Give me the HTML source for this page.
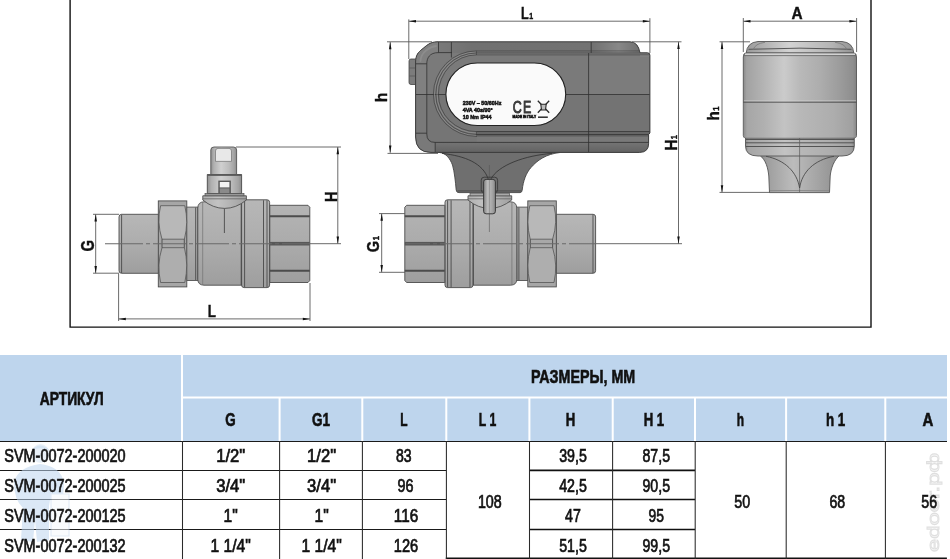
<!DOCTYPE html>
<html lang="ru"><head><meta charset="utf-8"><title>SVM-0072</title>
<style>
html,body{margin:0;padding:0;background:#fff;}
body{width:950px;height:559px;overflow:hidden;font-family:'Liberation Sans',sans-serif;}
svg{display:block;position:absolute;left:0;top:0;}
text{font-family:'Liberation Sans',sans-serif;}
.b{font-weight:bold;}
.dl{stroke:#5a5a5a;stroke-width:0.9;fill:none;}
.ol{stroke:#4a4a4a;stroke-width:0.9;fill:none;}
.al{stroke:#303030;stroke-width:0.8;fill:none;}
.ah{fill:#111;stroke:none;}
</style></head><body>
<svg width="950" height="559" viewBox="0 0 950 559">
<defs>
<linearGradient id="gv" x1="0" y1="0" x2="0" y2="1">
 <stop offset="0" stop-color="#b7b7b7"/><stop offset="0.5" stop-color="#adadad"/><stop offset="1" stop-color="#9e9e9e"/>
</linearGradient>
<linearGradient id="gv2" x1="0" y1="0" x2="0" y2="1">
 <stop offset="0" stop-color="#b4b4b4"/><stop offset="0.5" stop-color="#ababab"/><stop offset="1" stop-color="#9e9e9e"/>
</linearGradient>
<linearGradient id="gh" x1="0" y1="0" x2="1" y2="0">
 <stop offset="0" stop-color="#909090"/><stop offset="0.12" stop-color="#b0b0b0"/><stop offset="0.4" stop-color="#d0d0d0"/><stop offset="0.7" stop-color="#bcbcbc"/><stop offset="0.9" stop-color="#a4a4a4"/><stop offset="1" stop-color="#8c8c8c"/>
</linearGradient>
<linearGradient id="gcap" x1="0" y1="0" x2="1" y2="0">
 <stop offset="0" stop-color="#8a8a8a"/><stop offset="0.03" stop-color="#a2a2a2"/><stop offset="0.15" stop-color="#b0b0b0"/><stop offset="0.28" stop-color="#c1c1c1"/><stop offset="0.36" stop-color="#cbcbcb"/><stop offset="0.5" stop-color="#b9b9b9"/><stop offset="0.68" stop-color="#adadad"/><stop offset="0.85" stop-color="#9c9c9c"/><stop offset="0.97" stop-color="#8e8e8e"/><stop offset="1" stop-color="#808080"/>
</linearGradient>
<linearGradient id="gcap2" x1="0" y1="0" x2="1" y2="0">
 <stop offset="0" stop-color="#8e8e8e"/><stop offset="0.1" stop-color="#9e9e9e"/><stop offset="0.42" stop-color="#bcbcbc"/><stop offset="0.75" stop-color="#a2a2a2"/><stop offset="1" stop-color="#8e8e8e"/>
</linearGradient>
<linearGradient id="gcapt" x1="0" y1="0" x2="1" y2="0">
 <stop offset="0" stop-color="#9a9a9a"/><stop offset="0.4" stop-color="#d2d2d2"/><stop offset="0.8" stop-color="#b4b4b4"/><stop offset="1" stop-color="#929292"/>
</linearGradient>
<linearGradient id="gtop" x1="0" y1="0" x2="1" y2="0">
 <stop offset="0" stop-color="#7c7c7c"/><stop offset="0.2" stop-color="#707070"/><stop offset="0.78" stop-color="#727272"/><stop offset="0.9" stop-color="#888888"/><stop offset="1" stop-color="#707070"/>
</linearGradient>
<linearGradient id="gdome" x1="0" y1="0" x2="1" y2="0">
 <stop offset="0" stop-color="#b0b0b0"/><stop offset="0.35" stop-color="#c2c2c2"/><stop offset="1" stop-color="#a0a0a0"/>
</linearGradient>
<linearGradient id="gpin" x1="0" y1="0" x2="1" y2="0">
 <stop offset="0" stop-color="#808080"/><stop offset="0.35" stop-color="#bebebe"/><stop offset="0.7" stop-color="#a8a8a8"/><stop offset="1" stop-color="#888888"/>
</linearGradient>
<linearGradient id="gbot" x1="0" y1="0" x2="0" y2="1">
 <stop offset="0" stop-color="#747474"/><stop offset="1" stop-color="#626262"/>
</linearGradient>
<linearGradient id="gcapl" x1="0" y1="0" x2="1" y2="0">
 <stop offset="0" stop-color="#8e8e8e"/><stop offset="0.03" stop-color="#a6a6a6"/><stop offset="0.18" stop-color="#b0b0b0"/><stop offset="0.36" stop-color="#c3c3c3"/><stop offset="0.5" stop-color="#b8b8b8"/><stop offset="0.8" stop-color="#adadad"/><stop offset="0.97" stop-color="#a0a0a0"/><stop offset="1" stop-color="#8a8a8a"/>
</linearGradient>
</defs>
<g opacity="0.999">

<path d="M70.1,-2 V327.1 H871 V-2" fill="none" stroke="#111" stroke-width="1.4"/>
<g>
 <!-- male thread -->
 <path d="M121.5,214.3 H158.5 V273.3 H121.5 Q119,273.3 119,270.6 V217 Q119,214.3 121.5,214.3 Z" fill="url(#gv)" stroke="#4c4c4c" stroke-width="0.9"/>
 <path d="M121.6,214.6 V273" class="ol"/>
 <!-- neck -->
 <rect x="186.5" y="207.1" width="11.3" height="73.4" fill="url(#gv)" stroke="#555" stroke-width="0.9"/>
 <path d="M195.7,207.5 V280" class="ol"/>
 <!-- nut -->
 <rect x="158.3" y="200.9" width="28.5" height="86" fill="#a6a6a6" stroke="#4c4c4c" stroke-width="0.9"/>
 <rect x="161.6" y="239.2" width="22.6" height="8.5" fill="#a8a8a8"/>
 <path d="M160.6,205.7 H184.8 Q188.8,222 184.4,239.2 H162 Q156.6,222 160.6,205.7 Z" fill="#b8b8b8" stroke="#555" stroke-width="0.8"/>
 <path d="M162,247.7 H184.4 Q188.8,265 184.8,282.5 H160.6 Q156.6,265 162,247.7 Z" fill="#aeaeae" stroke="#555" stroke-width="0.8"/>
 <path d="M162,239.2 V247.7 M184.3,239.2 V247.7" class="ol"/>
 <!-- body -->
 <path d="M197.8,208 Q198,202 204,201.8 H243 V285.2 H204 Q198,285 197.8,279.5 Z" fill="url(#gv)" stroke="#4c4c4c" stroke-width="0.9"/>
 <path d="M202.7,202.3 V285" stroke="#777" stroke-width="0.8" fill="none"/>
 <rect x="241.6" y="199.8" width="28" height="87.8" rx="2.5" fill="url(#gv)" stroke="#4c4c4c" stroke-width="0.9"/>
 <path d="M241.2,203 V285 M244.6,200.3 V287.3 M263.5,200.3 V287.3 M267,200.3 V287.3" class="ol"/>
 <!-- female hex -->
 <path d="M269.8,205.3 H308 L309.8,207.3 V280.5 L308,282.5 H269.8 Z" fill="url(#gv2)" stroke="#4c4c4c" stroke-width="0.9"/>
 <path d="M269.8,216.2 H309.8 M269.8,270.8 H309.8" stroke="#4c4c4c" stroke-width="1.9" fill="none"/>
 <rect x="269.8" y="241.9" width="40" height="3.6" fill="#585858"/>
</g>
<g>
<path d="M207.3,193.6 H241.6 V174.5 H207.3 Z" fill="url(#gh)" stroke="#4a4a4a" stroke-width="0.9"/>
<path d="M210.8,174.5 V150 Q210.8,147 214,147 H233.5 Q236.6,147 236.6,150 V174.5 Z" fill="url(#gh)" stroke="#555" stroke-width="0.9"/>
<path d="M215.5,151 Q215.5,148.4 218,148.4 H229 Q231.5,148.4 231.5,151 V161.4 H215.5 Z" fill="#e8e8e8" stroke="#707070" stroke-width="0.7"/>
<rect x="207.3" y="174.4" width="34.3" height="1.5" fill="#5a5a5a"/>
<rect x="218.3" y="180.6" width="12.6" height="12.6" fill="#5a5a5a"/>
<rect x="219.8" y="182" width="9.6" height="5.4" fill="#f4f4f4"/>
<rect x="219.8" y="188.4" width="9.6" height="4.8" fill="#8a8a8a"/>
<path d="M202.8,195.8 H246.4 V200 Q236,208.4 224.6,208.4 Q213,208.4 202.8,200 Z" fill="url(#gdome)" stroke="#505050" stroke-width="0.9"/>
<path d="M202.8,198.8 H246.4" stroke="#666" stroke-width="0.8" fill="none"/>
<rect x="205" y="193.6" width="39" height="2.2" fill="#999" stroke="#505050" stroke-width="0.7"/>
<path d="M224.4,208.6 V233" class="ol"/>
</g>
<path d="M105,243.7 H310" stroke="#6a6a6a" stroke-width="1.1" stroke-dasharray="38 3 4 3 33 3 4 3 33 3 4 3 33 3 4 3 33 3 4 3 33 3 4 3 33 3 4 3" fill="none"/>
<g transform="translate(714.6,0) scale(-1,1)">
 <!-- male thread -->
 <path d="M121.5,214.3 H158.5 V273.3 H121.5 Q119,273.3 119,270.6 V217 Q119,214.3 121.5,214.3 Z" fill="url(#gv)" stroke="#4c4c4c" stroke-width="0.9"/>
 <path d="M121.6,214.6 V273" class="ol"/>
 <!-- neck -->
 <rect x="186.5" y="207.1" width="11.3" height="73.4" fill="url(#gv)" stroke="#555" stroke-width="0.9"/>
 <path d="M195.7,207.5 V280" class="ol"/>
 <!-- nut -->
 <rect x="158.3" y="200.9" width="28.5" height="86" fill="#a6a6a6" stroke="#4c4c4c" stroke-width="0.9"/>
 <rect x="161.6" y="239.2" width="22.6" height="8.5" fill="#a8a8a8"/>
 <path d="M160.6,205.7 H184.8 Q188.8,222 184.4,239.2 H162 Q156.6,222 160.6,205.7 Z" fill="#b8b8b8" stroke="#555" stroke-width="0.8"/>
 <path d="M162,247.7 H184.4 Q188.8,265 184.8,282.5 H160.6 Q156.6,265 162,247.7 Z" fill="#aeaeae" stroke="#555" stroke-width="0.8"/>
 <path d="M162,239.2 V247.7 M184.3,239.2 V247.7" class="ol"/>
 <!-- body -->
 <path d="M197.8,208 Q198,202 204,201.8 H243 V285.2 H204 Q198,285 197.8,279.5 Z" fill="url(#gv)" stroke="#4c4c4c" stroke-width="0.9"/>
 <path d="M202.7,202.3 V285" stroke="#777" stroke-width="0.8" fill="none"/>
 <rect x="241.6" y="199.8" width="28" height="87.8" rx="2.5" fill="url(#gv)" stroke="#4c4c4c" stroke-width="0.9"/>
 <path d="M241.2,203 V285 M244.6,200.3 V287.3 M263.5,200.3 V287.3 M267,200.3 V287.3" class="ol"/>
 <!-- female hex -->
 <path d="M269.8,205.3 H308 L309.8,207.3 V280.5 L308,282.5 H269.8 Z" fill="url(#gv2)" stroke="#4c4c4c" stroke-width="0.9"/>
 <path d="M269.8,216.2 H309.8 M269.8,270.8 H309.8" stroke="#4c4c4c" stroke-width="1.9" fill="none"/>
 <rect x="269.8" y="241.9" width="40" height="3.6" fill="#585858"/>
</g>
<path d="M406,243.7 H596" stroke="#6a6a6a" stroke-width="1.1" stroke-dasharray="24 3 4 3 33 3 4 3 33 3 4 3 33 3 4 3 33 3 4 3 33 3 4 3 33 3 4 3" fill="none"/>
<path class="dl" d="M596,243.7 H682"/>
<clipPath id="cb"><path d="M437,41.8 H630 Q638,41.8 640,52.8 H647.5 Q649.9,52.8 649.9,55.2 V133 L648.6,134.5 V143.5 Q648.6,152.4 639.5,152.4 H431 Q415.6,152.4 415.6,137 V62 C415.6,55 418.5,52 422,49.3 C426,46 430,41.8 437,41.8 Z"/></clipPath>
<g>
<path d="M439.5,152.5 C446,153 450,158.5 452.5,165 C454.5,172 455.5,182 456.2,190 Q456.4,192.6 459,192.6 H520 Q522,192.6 522.2,190 C523.2,181 526,173 531,167.5 C537,160.5 546,154 560,152.5 Z" fill="#6f6f6f" stroke="#444" stroke-width="0.9"/>
<path d="M457.5,190.9 H521.5" stroke="#5a5a5a" stroke-width="1.6" fill="none"/>
<path d="M442,153.4 C465,156 483,163 488.4,179.5 M552,153.4 C525,155.5 498,165 490.6,179.5" class="al"/>
<path d="M409,61 Q409,59 411,59 H416 V84.5 H411 Q409,84.5 409,82.5 Z" fill="#7c7c7c" stroke="#444" stroke-width="0.8"/>
<path d="M409.3,68 H415.5 M409.3,76 H415.5" stroke="#555" stroke-width="0.7" fill="none"/>
<path d="M437,41.8 H630 Q638,41.8 640,52.8 H647.5 Q649.9,52.8 649.9,55.2 V133 L648.6,134.5 V143.5 Q648.6,152.4 639.5,152.4 H431 Q415.6,152.4 415.6,137 V62 C415.6,55 418.5,52 422,49.3 C426,46 430,41.8 437,41.8 Z" fill="#757575"/>
<g clip-path="url(#cb)">
<rect x="415" y="53" width="236" height="41.5" fill="#7a7a7a"/>
<path d="M432,42.3 H630 Q637.6,42.3 639.6,52.8 H430 Z" fill="url(#gtop)"/>
<path d="M415,94 V41 H438 V53.5 Q427.2,54.5 427.2,64 V94 Z" fill="#808080"/>
<path d="M420.5,61 C421,55 423,53 426,50.5 C429,48 432,46.3 436,46" stroke="#8c8c8c" stroke-width="1.8" fill="none" stroke-linecap="round"/>
<path d="M415,95 V153 H435 V142.4 Q427.2,141.5 427.2,134 V95 Z" fill="#797979"/>
<rect x="589" y="55.2" width="61" height="38.8" fill="#7c7c7c"/>
<rect x="589" y="95" width="61" height="36.3" fill="#737373"/>
<rect x="476.5" y="131.6" width="174" height="2.8" fill="#6c6c6c"/>
<rect x="476.5" y="134.4" width="174" height="2.4" fill="#5e5e5e"/>
<rect x="476.5" y="136.6" width="174" height="5.6" fill="#797979"/>
<rect x="435.4" y="142.6" width="215" height="10" fill="url(#gbot)"/>
<path d="M640,55.6 H649.5" stroke="#8a8a8a" stroke-width="1.2" fill="none"/>
<path d="M415.6,94.5 H446 M564.5,94.5 H649.9 M476.5,131.6 H649.9 M476.5,134.4 H649.9 M435,142.4 H649.9 M588.6,53 V152.5 M591.2,42 V53 M435.2,142.4 V152.4 M476.4,131.5 V136.5 M476.4,50.9 V55 M415.6,133.2 H426.8" class="al"/>
<path d="M476.5,50.9 H639 M476.5,53 H640 M476.5,54.9 H649.5" stroke="#3a3a3a" stroke-width="0.7" fill="none" opacity="0.75"/>
<path d="M426.8,64 V134 Q426.8,142.4 435,142.4 M415.6,63.8 H426.8 M426.8,64 C426.8,58 429.5,52.6 438.5,52.6 H452 M438.5,42 V52.6 M451.4,42 V57.5" class="al"/>
</g>
<path d="M437,41.8 H630 Q638,41.8 640,52.8 H647.5 Q649.9,52.8 649.9,55.2 V133 L648.6,134.5 V143.5 Q648.6,152.4 639.5,152.4 H431 Q415.6,152.4 415.6,137 V62 C415.6,55 418.5,52 422,49.3 C426,46 430,41.8 437,41.8 Z" fill="none" stroke="#3c3c3c" stroke-width="1"/>
<path d="M476.5,51.9 A41.9,42.4 0 0 0 434.6,94.25 A41.9,41.2 0 0 0 476.5,135.4 M476.5,53.9 A39.4,40.4 0 0 0 437.1,94.25 A39.4,38.8 0 0 0 476.5,133" stroke="#8a8a8a" stroke-width="1" fill="none"/>
<path d="M476.5,50.9 A43.1,43.4 0 0 0 433.4,94.25 A43.1,42.2 0 0 0 476.5,136.4 M476.5,53 A40.7,41.2 0 0 0 435.8,94.25 A40.7,40.2 0 0 0 476.5,134.4 M476.5,54.9 A38.1,39.4 0 0 0 438.4,94.25 A38.1,37.3 0 0 0 476.5,131.6" stroke="#3a3a3a" stroke-width="0.8" fill="none" opacity="0.8"/>
<rect x="445.9" y="63" width="119.8" height="62.5" rx="31.25" fill="#fafafa" stroke="#222" stroke-width="1.1"/>
</g>
<text x="462.7" y="105.3" font-size="6.1" class="b" fill="#1a1a1a" stroke="#1a1a1a" stroke-width="0.6" lengthAdjust="spacingAndGlyphs" textLength="38.7">230V ~ 50/60Hz</text>
<text x="462.7" y="111.9" font-size="6.1" class="b" fill="#1a1a1a" stroke="#1a1a1a" stroke-width="0.6" lengthAdjust="spacingAndGlyphs" textLength="30">4VA 40s/90°</text>
<text x="462.7" y="118.5" font-size="6.1" class="b" fill="#1a1a1a" stroke="#1a1a1a" stroke-width="0.6" lengthAdjust="spacingAndGlyphs" textLength="28.8">10 Nm IP44</text>
<text x="512.8" y="112.6" font-size="17.2" fill="#3a3a3a" stroke="#3a3a3a" stroke-width="1" stroke-linejoin="round" letter-spacing="1.6" lengthAdjust="spacingAndGlyphs" textLength="19.6">CE</text>
<text x="512.5" y="118" font-size="3.4" class="b" fill="#111" stroke="#111" stroke-width="0.45" textLength="23.7" lengthAdjust="spacingAndGlyphs">MADE IN ITALY</text>
<g stroke="#2a2a2a" stroke-width="1.3" fill="none"><path d="M537.8,100.8 L549.2,112.8 M549.2,100.8 L537.8,112.8"/><path d="M540.8,104.2 H546.2 L545.5,110 H541.5 Z" stroke-width="1.1" fill="#bbb"/><path d="M538,117.2 H547.8" stroke-width="1.5"/></g>
<path d="M468,195.8 H511.7 V200 Q501,208.4 489.8,208.4 Q478,208.4 468,200 Z" fill="url(#gdome)" stroke="#505050" stroke-width="0.9"/>
<path d="M468,198.8 H511.7" stroke="#666" stroke-width="0.8" fill="none"/>
<rect x="470" y="193.2" width="39.5" height="2.6" fill="#aaa" stroke="#505050" stroke-width="0.7"/>
<path d="M489.4,165 V232" stroke="#555" stroke-width="0.6" fill="none"/>
<rect x="481.2" y="177.2" width="16.4" height="15.5" rx="3" fill="none" stroke="#3a3a3a" stroke-width="0.9"/>
<rect x="483.6" y="179.4" width="11.8" height="34.4" rx="2.5" fill="url(#gpin)" stroke="#3a3a3a" stroke-width="1"/>
<path d="M489.4,180 V213" stroke="#777" stroke-width="0.5" fill="none"/>
<g>
<path d="M759.5,155 C766,160 768,168 768.8,176 L769.5,192.6 H829.5 L830.2,176 C831,168 834,160 840,155 Z" fill="url(#gcap2)" stroke="#555" stroke-width="0.9"/>
<path d="M770,190.6 H829" stroke="#8a8a8a" stroke-width="1" fill="none"/>
<path d="M745.5,137.7 H854.3 V146 Q854.3,156 842,156 H758 Q745.5,156 745.5,146 Z" fill="url(#gcapl)" stroke="#555" stroke-width="0.9"/>
<path d="M746.2,53 Q747,42.4 758,41.5 H842 Q853,42.4 853.8,53 Z" fill="url(#gcapt)" stroke="#555" stroke-width="0.9"/>
<path d="M748.5,49.3 Q800,47 851.5,49.3" class="ol" stroke="#666"/>
<path d="M753,50 Q755,43.5 765,42.3 M847,50 Q845,43.5 835,42.3" stroke="#777" stroke-width="0.8" fill="none"/>
<path d="M743.3,57 Q743.3,53 746,53 H853.8 Q856.5,53 856.5,57 V135.5 Q856.5,138 854,138 H745.8 Q743.3,138 743.3,135.5 Z" fill="url(#gcap)" stroke="#555" stroke-width="0.9"/>
<path d="M745,54.2 H855" stroke="#d2d2d2" stroke-width="1.4" fill="none"/>
<path d="M744,55.6 H856" stroke="#666" stroke-width="0.8" fill="none"/>
<path d="M744,100.8 H856" stroke="#cfcfcf" stroke-width="1" fill="none" opacity="0.7"/>
<rect x="743.8" y="102.6" width="112.2" height="35" fill="url(#gcapl)"/>
<path d="M743.3,102.2 H856.5 M746,139.5 H854 M746,142.8 H854 M746,146.5 H854" class="ol"/>
<path d="M799.6,138 V192.4" stroke="#5a5a5a" stroke-width="0.7" fill="none"/>
<path d="M766,156.3 C785,160 797,172 799.6,188 C802,172 814,160 834,156.3" class="ol"/>
</g>
<path class="dl" d="M95.7,214.3 V273.2"/>
<path class="ah" d="M95.7,214.3 L94.45,221.5 L96.95,221.5 Z"/>
<path class="ah" d="M95.7,273.2 L94.45,266.0 L96.95,266.0 Z"/>
<path class="dl" d="M93,214.3 H119 M93,273.2 H119"/>
<text transform="translate(93.8,251.4) rotate(-90) scale(0.84,1)" font-size="17.6" class="b" fill="#111" stroke="#111" stroke-width="0.4">G</text>
<path class="dl" d="M118.6,318.9 H310"/>
<path class="ah" d="M118.6,318.9 L125.8,317.65 L125.8,320.15 Z"/>
<path class="ah" d="M310,318.9 L302.8,317.65 L302.8,320.15 Z"/>
<path class="dl" d="M118.6,273.5 V321 M310,283 V321"/>
<text transform="translate(207.8,316.8) scale(0.8,1)" font-size="16.8" class="b" fill="#111" stroke="#111" stroke-width="0.4">L</text>
<path class="dl" d="M337.8,147 V243.7"/>
<path class="ah" d="M337.8,147 L336.55,154.2 L339.05,154.2 Z"/>
<path class="ah" d="M337.8,243.7 L336.55,236.5 L339.05,236.5 Z"/>
<path class="dl" d="M236,147 H341 M310,243.7 H341"/>
<text transform="translate(337.1,202) rotate(-90) scale(0.86,1)" font-size="17" class="b" fill="#111" stroke="#111" stroke-width="0.4">H</text>
<path class="dl" d="M390.2,42 V152.8"/>
<path class="ah" d="M390.2,42 L388.95,49.2 L391.45,49.2 Z"/>
<path class="ah" d="M390.2,152.8 L388.95,145.60000000000002 L391.45,145.60000000000002 Z"/>
<path class="dl" d="M387,41.8 H432 M387.5,153.4 H438"/>
<text transform="translate(387.1,102.2) rotate(-90) scale(0.9,1)" font-size="17.4" class="b" fill="#111" stroke="#111" stroke-width="0.4">h</text>
<path class="dl" d="M408.8,21.2 H650"/>
<path class="ah" d="M408.8,21.2 L416.0,19.95 L416.0,22.45 Z"/>
<path class="ah" d="M650,21.2 L642.8,19.95 L642.8,22.45 Z"/>
<path class="dl" d="M408.8,19.4 V59 M649.9,18.2 V53"/>
<text transform="translate(521,18.6) scale(0.8,1)" font-size="15.8" class="b" fill="#111" stroke="#111" stroke-width="0.4">L<tspan font-size="8.8" dx="0.6">1</tspan></text>
<path class="dl" d="M678.5,41.8 V243.7"/>
<path class="ah" d="M678.5,41.8 L677.25,49.0 L679.75,49.0 Z"/>
<path class="ah" d="M678.5,243.7 L677.25,236.5 L679.75,236.5 Z"/>
<path class="dl" d="M632,41.8 H681.5"/>
<text transform="translate(676.8,150.6) rotate(-90) scale(0.88,1)" font-size="17" class="b" fill="#111" stroke="#111" stroke-width="0.4">H<tspan font-size="8.8" dx="0.6">1</tspan></text>
<path class="dl" d="M381.7,213.6 V272.3"/>
<path class="ah" d="M381.7,213.6 L380.45,220.79999999999998 L382.95,220.79999999999998 Z"/>
<path class="ah" d="M381.7,272.3 L380.45,265.1 L382.95,265.1 Z"/>
<path class="dl" d="M379,213.6 H405 M379,272.3 H405"/>
<text transform="translate(379.3,252.2) rotate(-90) scale(0.86,1)" font-size="17" class="b" fill="#111" stroke="#111" stroke-width="0.4">G<tspan font-size="8.8" dx="0.6">1</tspan></text>
<path class="dl" d="M743.3,21.2 H856.6"/>
<path class="ah" d="M743.3,21.2 L750.5,19.95 L750.5,22.45 Z"/>
<path class="ah" d="M856.6,21.2 L849.4,19.95 L849.4,22.45 Z"/>
<path class="dl" d="M743.3,18 V52 M856.6,18 V52"/>
<text transform="translate(791.6,18.9) scale(0.96,1)" font-size="16" class="b" fill="#111" stroke="#111" stroke-width="0.4">A</text>
<path class="dl" d="M722,41.8 V192.4"/>
<path class="ah" d="M722,41.8 L720.75,49.0 L723.25,49.0 Z"/>
<path class="ah" d="M722,192.4 L720.75,185.20000000000002 L723.25,185.20000000000002 Z"/>
<path class="dl" d="M719.5,41.8 H750 M719.5,192.4 H770"/>
<text transform="translate(719.1,120.6) rotate(-90) scale(0.88,1)" font-size="17.4" class="b" fill="#111" stroke="#111" stroke-width="0.4">h<tspan font-size="8.8" dx="0.6">1</tspan></text>
<rect x="0" y="355" width="947" height="86.5" fill="#bed5ed"/>
<path d="M182,355 V441 M182,397.4 H947 M279.6,397.4 V441 M362.3,397.4 V441 M446.3,397.4 V441 M529.4,397.4 V441 M612.7,397.4 V441 M695,397.4 V441 M786.1,397.4 V441 M885.3,397.4 V441" stroke="#fff" stroke-width="2" fill="none"/>
<path d="M0,441.5 H947 M0,470.5 H446.3 M0,499.5 H446.3 M0,529.5 H446.3" stroke="#1a1a1a" stroke-width="1.1" fill="none"/>
<path d="M529.4,470.4 H695 M529.4,499.5 H695 M529.4,529.5 H695" stroke="#111" stroke-width="1.7" fill="none"/>
<path d="M445.8,558.5 H946.9" stroke="#111" stroke-width="1.9" fill="none"/>
<path d="M182.5,441 V559 M279.6,441 V559 M362.4,441 V559 M446.4,441 V559 M529.5,441 V559 M612.6,441 V559 M695.2,441 V559 M786.2,441 V559 M885.4,441 V559" stroke="#2a2a2a" stroke-width="1.05" fill="none"/>
<g opacity="0.55"><ellipse cx="40.5" cy="453.5" rx="9" ry="9.5" fill="#d6e4f3"/><path d="M31.5,450 Q40,441 49.5,450 Q40,446.5 31.5,450 Z" fill="#b4cfea"/><path d="M14,482 Q18,467 40,464 Q60,466 64,482 L63,499 Q56,503 50,500 L49,506 L49,540 L37,542 L35,520 L33,542 L21,540 L23,508 Q14,500 14,482 Z" fill="#bdd5ee"/><path d="M51,494 H69 V536 H51 Z" fill="#f4f8fc" stroke="#c9dbee" stroke-width="1.2"/></g>
<text transform="translate(938.8,552) rotate(-90)" font-size="16.5" fill="#f6f6f6" stroke="#d2d2d2" stroke-width="0.9" textLength="99" lengthAdjust="spacingAndGlyphs" opacity="0.7">edoor.рф</text>
<text x="39.7" y="405.2" font-size="17.5" class="b" fill="#111" stroke="#111" stroke-width="0.6" textLength="63.9" lengthAdjust="spacingAndGlyphs">АРТИКУЛ</text>
<text x="531" y="383.0" font-size="17.5" class="b" fill="#111" stroke="#111" stroke-width="0.6" textLength="104.2" lengthAdjust="spacingAndGlyphs">РАЗМЕРЫ, ММ</text>
<text x="225.3" y="426.0" font-size="17.5" class="b" fill="#111" stroke="#111" stroke-width="0.6" textLength="10.4" lengthAdjust="spacingAndGlyphs">G</text>
<text x="312.1" y="426.0" font-size="17.5" class="b" fill="#111" stroke="#111" stroke-width="0.6" textLength="18.0" lengthAdjust="spacingAndGlyphs">G1</text>
<text x="400.2" y="426.0" font-size="17.5" class="b" fill="#111" stroke="#111" stroke-width="0.6" textLength="7.3" lengthAdjust="spacingAndGlyphs">L</text>
<text x="478.8" y="426.0" font-size="17.5" class="b" fill="#111" stroke="#111" stroke-width="0.6" textLength="17.4" lengthAdjust="spacingAndGlyphs">L 1</text>
<text x="565.7" y="426.0" font-size="17.5" class="b" fill="#111" stroke="#111" stroke-width="0.6" textLength="9.5" lengthAdjust="spacingAndGlyphs">H</text>
<text x="643.7" y="426.0" font-size="17.5" class="b" fill="#111" stroke="#111" stroke-width="0.6" textLength="20.5" lengthAdjust="spacingAndGlyphs">H 1</text>
<text x="736.8" y="426.0" font-size="17.5" class="b" fill="#111" stroke="#111" stroke-width="0.6" textLength="7.3" lengthAdjust="spacingAndGlyphs">h</text>
<text x="825.9" y="426.0" font-size="17.5" class="b" fill="#111" stroke="#111" stroke-width="0.6" textLength="19.3" lengthAdjust="spacingAndGlyphs">h 1</text>
<text x="922.5" y="426.0" font-size="17.5" class="b" fill="#111" stroke="#111" stroke-width="0.6" textLength="10.8" lengthAdjust="spacingAndGlyphs">A</text>
<text x="4.3" y="462.3" font-size="17.5" fill="#111" stroke="#111" stroke-width="0.7" textLength="121.3" lengthAdjust="spacingAndGlyphs">SVM-0072-200020</text>
<text x="4.3" y="491.8" font-size="17.5" fill="#111" stroke="#111" stroke-width="0.7" textLength="121.3" lengthAdjust="spacingAndGlyphs">SVM-0072-200025</text>
<text x="4.3" y="522.1" font-size="17.5" fill="#111" stroke="#111" stroke-width="0.7" textLength="121.3" lengthAdjust="spacingAndGlyphs">SVM-0072-200125</text>
<text x="4.3" y="551.6" font-size="17.5" fill="#111" stroke="#111" stroke-width="0.7" textLength="121.3" lengthAdjust="spacingAndGlyphs">SVM-0072-200132</text>
<text x="216.2" y="462.3" font-size="17.5" fill="#111" stroke="#111" stroke-width="0.7" textLength="29.0" lengthAdjust="spacingAndGlyphs">1/2"</text>
<text x="307.1" y="462.3" font-size="17.5" fill="#111" stroke="#111" stroke-width="0.7" textLength="29.0" lengthAdjust="spacingAndGlyphs">1/2"</text>
<text x="216.2" y="491.8" font-size="17.5" fill="#111" stroke="#111" stroke-width="0.7" textLength="29.0" lengthAdjust="spacingAndGlyphs">3/4"</text>
<text x="307.1" y="491.8" font-size="17.5" fill="#111" stroke="#111" stroke-width="0.7" textLength="29.0" lengthAdjust="spacingAndGlyphs">3/4"</text>
<text x="223.6" y="522.1" font-size="17.5" fill="#111" stroke="#111" stroke-width="0.7" textLength="14.2" lengthAdjust="spacingAndGlyphs">1"</text>
<text x="314.5" y="522.1" font-size="17.5" fill="#111" stroke="#111" stroke-width="0.7" textLength="14.2" lengthAdjust="spacingAndGlyphs">1"</text>
<text x="210.5" y="551.6" font-size="17.5" fill="#111" stroke="#111" stroke-width="0.7" textLength="40.4" lengthAdjust="spacingAndGlyphs">1 1/4"</text>
<text x="301.4" y="551.6" font-size="17.5" fill="#111" stroke="#111" stroke-width="0.7" textLength="40.4" lengthAdjust="spacingAndGlyphs">1 1/4"</text>
<text x="396.0" y="462.3" font-size="17.5" fill="#111" stroke="#111" stroke-width="0.7" textLength="15.6" lengthAdjust="spacingAndGlyphs">83</text>
<text x="397.4" y="491.8" font-size="17.5" fill="#111" stroke="#111" stroke-width="0.7" textLength="16.0" lengthAdjust="spacingAndGlyphs">96</text>
<text x="393.8" y="522.1" font-size="17.5" fill="#111" stroke="#111" stroke-width="0.7" textLength="24.4" lengthAdjust="spacingAndGlyphs">116</text>
<text x="393.8" y="551.6" font-size="17.5" fill="#111" stroke="#111" stroke-width="0.7" textLength="24.4" lengthAdjust="spacingAndGlyphs">126</text>
<text x="559.2" y="462.3" font-size="17.5" fill="#111" stroke="#111" stroke-width="0.7" textLength="27.6" lengthAdjust="spacingAndGlyphs">39,5</text>
<text x="559.2" y="491.8" font-size="17.5" fill="#111" stroke="#111" stroke-width="0.7" textLength="27.6" lengthAdjust="spacingAndGlyphs">42,5</text>
<text x="565.1" y="522.1" font-size="17.5" fill="#111" stroke="#111" stroke-width="0.7" textLength="15.8" lengthAdjust="spacingAndGlyphs">47</text>
<text x="559.2" y="551.6" font-size="17.5" fill="#111" stroke="#111" stroke-width="0.7" textLength="27.6" lengthAdjust="spacingAndGlyphs">51,5</text>
<text x="642.5" y="462.3" font-size="17.5" fill="#111" stroke="#111" stroke-width="0.7" textLength="27.5" lengthAdjust="spacingAndGlyphs">87,5</text>
<text x="642.5" y="491.8" font-size="17.5" fill="#111" stroke="#111" stroke-width="0.7" textLength="27.5" lengthAdjust="spacingAndGlyphs">90,5</text>
<text x="648.6" y="522.1" font-size="17.5" fill="#111" stroke="#111" stroke-width="0.7" textLength="15.4" lengthAdjust="spacingAndGlyphs">95</text>
<text x="642.5" y="551.6" font-size="17.5" fill="#111" stroke="#111" stroke-width="0.7" textLength="27.5" lengthAdjust="spacingAndGlyphs">99,5</text>
<text x="477.9" y="507.5" font-size="17.5" fill="#111" stroke="#111" stroke-width="0.7" textLength="23.8" lengthAdjust="spacingAndGlyphs">108</text>
<text x="734.3" y="507.5" font-size="17.5" fill="#111" stroke="#111" stroke-width="0.7" textLength="15.9" lengthAdjust="spacingAndGlyphs">50</text>
<text x="829.5" y="507.5" font-size="17.5" fill="#111" stroke="#111" stroke-width="0.7" textLength="15.7" lengthAdjust="spacingAndGlyphs">68</text>
<text x="921.3" y="507.5" font-size="17.5" fill="#111" stroke="#111" stroke-width="0.7" textLength="15.8" lengthAdjust="spacingAndGlyphs">56</text>
</g></svg>
</body></html>
